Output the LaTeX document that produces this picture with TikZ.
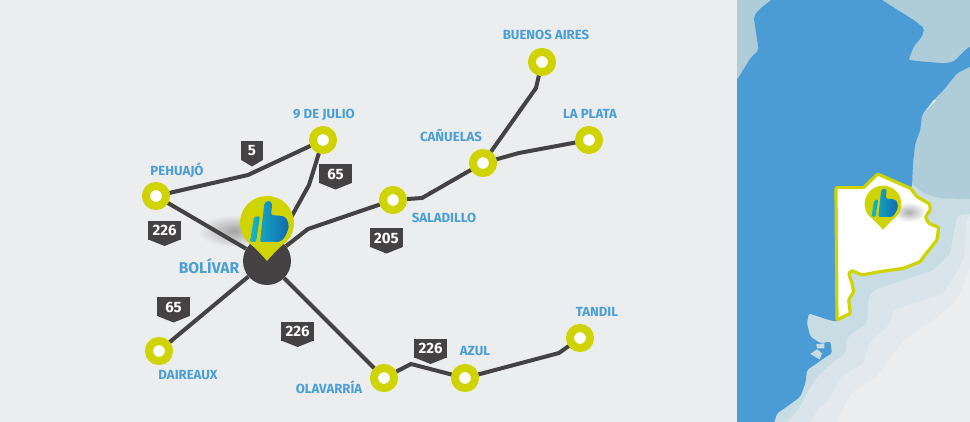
\documentclass[tikz,border=0pt]{standalone}
\usepackage{fontspec}
\setmainfont{Fira Sans}
\usetikzlibrary{positioning}
\definecolor{panelgray}{HTML}{ECEDEF}
\definecolor{cityblue}{HTML}{4A9FD8}
\definecolor{ringyellow}{HTML}{CFD400}
\definecolor{roadgray}{HTML}{454244}
\definecolor{mapblue}{HTML}{4B9BD5}
\definecolor{landgray}{HTML}{AECDD9}
\definecolor{seaone}{HTML}{C8DCE4}
\definecolor{seatwo}{HTML}{D9E5EA}
\definecolor{seathree}{HTML}{E4E9ED}
\definecolor{thumbleft}{HTML}{17B6CC}
\definecolor{thumbright}{HTML}{1069AB}
\tikzset{
	city/.style={circle,draw=ringyellow,fill=white,line width=8pt,minimum size=20pt,inner sep=0pt},
	hub/.style={circle,fill=roadgray,minimum size=48pt,inner sep=0pt},
	road/.style={draw=roadgray,line width=4pt,line join=round},
	cityname/.style={text=cityblue,font=\bfseries\fontsize{13.2}{15}\selectfont,inner sep=0pt},
	signbox/.style={fill=roadgray,text=white,font=\bfseries\fontsize{15}{17}\selectfont,minimum height=19pt,minimum width=33pt,inner sep=0pt,outer sep=0pt},
	pinmark/.pic={
		\fill[ringyellow] (0,0) circle [radius=27];
		\fill[ringyellow] (-25.5,9) .. controls (-19,20) and (-7,29) .. (0,38) .. controls (7,29) and (19,20) .. (25.5,9) -- cycle;
		\shade[left color=thumbleft,right color=thumbright,rounded corners=1.5]
			(-13,-6) -- (-7,-7) -- (-11,19) -- (-17,19) -- cycle
			(-7,19) -- (-3,-17) .. controls (-2,-23) and (5,-23) .. (5,-17) -- (4,-8) -- (15,-7) .. controls (21,-5) and (23,3) .. (20,9) .. controls (18,15) and (14,19) .. (9,19) -- cycle;
	}
}
\newcommand{\roadsign}[4][33pt]{
	\node(#2) [signbox,minimum width=#1] at (#3) {#4};
	\fill[roadgray] ([yshift=.6pt]#2.south west) -- ([yshift=-6pt]#2.south) -- ([yshift=.6pt]#2.south east) -- cycle;
}
\begin{document}
\begin{tikzpicture}[x=1pt,y=-1pt,node distance=25pt]
	\useasboundingbox (0,0) rectangle (970,422);
	\fill[panelgray] (0,0) rectangle (970,422);
	% map
	\begin{scope}[shift={(737,0)},x=0.3333pt,y=-0.3333pt]
		\clip (0,0) rectangle (699,1266);
		\fill[seathree,rounded corners=5pt] (720,780) -- (699,800) -- (660,900) -- (590,960) -- (500,1020) -- (470,1060) -- (420,1130) -- (340,1180) -- (290,1290) -- (-20,1290) -- (-20,500) -- (720,500) -- cycle;
		\fill[seatwo,rounded corners=5pt] (720,640) -- (690,650) -- (680,780) -- (620,880) -- (530,910) -- (465,930) -- (460,970) -- (395,1030) -- (380,1090) -- (310,1130) -- (275,1200) -- (240,1230) -- (205,1290) -- (-20,1290) -- (-20,500) -- (720,500) -- cycle;
		\fill[seaone,rounded corners=5pt] (720,640) -- (660,645) -- (650,700) -- (640,760) -- (590,810) -- (530,830) -- (470,850) -- (410,870) -- (395,890) -- (390,970) -- (330,1010) -- (325,1060) -- (290,1085) -- (240,1130) -- (215,1170) -- (190,1220) -- (130,1290) -- (-20,1290) -- (-20,500) -- (720,500) -- cycle;
		\fill[landgray] (0,0) rectangle (699,300);
		\fill[landgray,rounded corners=3pt] (720,180) -- (720,598) -- (610,595) -- (560,580) -- (525,550) -- (500,400) -- cycle;
		\fill[mapblue,rounded corners=2pt] (115,-10) -- (420,-10) -- (450,10) -- (490,35) -- (530,60) -- (562,85) -- (555,110) -- (530,140) -- (515,180) -- (560,185) -- (620,190) -- (650,185) -- (690,145) -- (720,130) -- (720,190) -- (660,220) -- (620,270) -- (590,300) -- (555,345) -- (550,390) -- (535,430) -- (528,490) -- (525,560) -- (450,700) -- (320,830) -- (320,950) -- (295,965) -- (260,955) -- (215,940) -- (210,970) -- (220,1010) -- (250,1030) -- (280,1025) -- (285,1060) -- (260,1075) -- (240,1090) -- (210,1110) -- (205,1150) -- (190,1190) -- (150,1220) -- (120,1240) -- (105,1290) -- (-20,1290) -- (-20,240) -- (0,240) -- (40,175) -- (65,150) -- (50,50) -- (65,30) -- cycle;
		\fill[seaone] (238,1033) -- (262,1030) -- (262,1045) -- (240,1045) -- cycle (220,1062) -- (240,1048) -- (255,1060) -- (248,1078) -- cycle;
		\draw[fill=white,draw=ringyellow,line width=3.2pt,line join=round,rounded corners=1pt] (297,563) -- (380,563) -- (422,522) -- (520,565) -- (540,590) -- (578,612) -- (580,630) -- (565,650) -- (575,670) -- (605,682) -- (600,720) -- (560,770) -- (550,785) -- (500,805) -- (430,815) -- (375,825) -- (345,812) -- (335,820) -- (345,850) -- (350,875) -- (335,900) -- (340,940) -- (300,960) -- cycle;
	\end{scope}
	\shade[inner color=black!32,outer color=white] (909,212) ellipse [x radius=17,y radius=10];
	\pic (pinmap) [scale=.68] at (883,204) {pinmark};
	% shadow of the big pin
	\shade[inner color=black!36,outer color=panelgray] (234,231) ellipse [x radius=36,y radius=16];
	% cities
	\node(ba) [city] at (542,62) {};
	\node(lp) [city] at (589,140) {};
	\node(cn) [city] at (483,163) {};
	\node(nj) [city] at (323,140) {};
	\node(pj) [city] at (156,196) {};
	\node(sd) [city] at (393,200) {};
	\node(bv) [hub]  at (267,261) {};
	\node(dx) [city] at (159,351) {};
	\node(ov) [city] at (384,378) {};
	\node(az) [city] at (465,378) {};
	\node(td) [city] at (580,338) {};
	\coordinate(pjnj) at (248,175);
	\coordinate(njbv) at (309,185);
	\coordinate(sdbv) at (308,229);
	\coordinate(sdcn) at (422,198);
	\coordinate(cnba) at (536,88);
	\coordinate(cnlp) at (519,153);
	\coordinate(ovaz) at (411,364);
	\coordinate(aztd) at (559,353);
	\draw[road] (pj) -- (pjnj) -- (nj);
	\draw[road] (pj) -- (bv);
	\draw[road] (nj) -- (njbv) -- (bv);
	\draw[road] (sd) -- (sdbv) -- (bv);
	\draw[road] (sd) -- (sdcn) -- (cn);
	\draw[road] (cn) -- (cnba) -- (ba);
	\draw[road] (cn) -- (cnlp) -- (lp);
	\draw[road] (bv) -- (dx);
	\draw[road] (bv) -- (ov);
	\draw[road] (ov) -- (ovaz) -- (az);
	\draw[road] (az) -- (aztd) -- (td);
	\pic (pinmain) at (267,223) {pinmark};
	% names
	\node(baname) [cityname,above of =ba,xshift=4pt,yshift=2pt] {BUENOS AIRES};
	\node(lpname) [cityname,above of =lp,xshift=1pt,yshift=1pt] {LA PLATA};
	\node(cnname) [cityname,above of =cn,xshift=-32pt,yshift=2pt] {CAÑUELAS};
	\node(njname) [cityname,above of =nj,xshift=1pt] {9 DE JULIO};
	\node(pjname) [cityname,above of =pj,xshift=21pt,yshift=1pt] {PEHUAJÓ};
	\node(sdname) [cityname,below of =sd,xshift=51pt,yshift=7pt] {SALADILLO};
	\node(bvname) [cityname,font=\bfseries\fontsize{15.6}{17}\selectfont,left of =bv,xshift=-33pt,yshift=-5pt] {BOLÍVAR};
	\node(dxname) [cityname,below of =dx,xshift=29pt,yshift=1pt] {DAIREAUX};
	\node(ovname) [cityname,left of =ov,xshift=-30pt,yshift=-9pt] {OLAVARRÍA};
	\node(azname) [cityname,above of =az,xshift=10pt,yshift=2pt] {AZUL};
	\node(tdname) [cityname,above of =td,xshift=17pt,yshift=1pt] {TANDIL};
	% route signs
	\roadsign[22pt]{rfive}{252,151}{5}
	\roadsign{rsixtyfive}{335.5,174}{65}
	\roadsign{rpj}{164.5,230.5}{226}
	\roadsign{rsd}{386.5,238}{205}
	\roadsign{rdx}{173.5,307}{65}
	\roadsign{rov}{297.5,331.5}{226}
	\roadsign{raz}{430.5,348.5}{226}
\end{tikzpicture}
\end{document}
